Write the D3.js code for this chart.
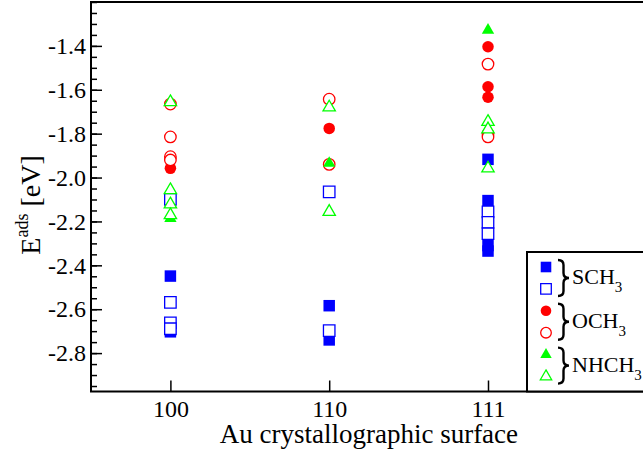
<!DOCTYPE html>
<html>
<head>
<meta charset="utf-8">
<script src="https://cdn.jsdelivr.net/npm/d3@7"></script>
<style>
  body { margin: 0; background: #fff; }
  svg text { font-family: "Liberation Serif", "Times New Roman", serif !important; }
</style>
</head>
<body>
<div id="app"></div>
<script>
// surfaces on the x axis
const surfaces = ["100", "110", "111"];
const yTicks = [-2.8, -2.6, -2.4, -2.2, -2.0, -1.8, -1.6, -1.4];

// adsorption energies [eV], one list per surface (100, 110, 111)
const schFilled = [[-2.449, -2.703], [-2.584, -2.74], [-1.917, -2.105, -2.31, -2.335]];
const schOpen   = [[-2.099, -2.569, -2.662, -2.689], [-2.065, -2.698], [-2.156, -2.204, -2.256]];
const ochFilled = [[-1.958], [-1.776], [-1.404, -1.586, -1.634]];
const ochOpen   = [[-1.665, -1.815, -1.905, -1.92], [-1.643, -1.94], [-1.483, -1.80, -1.815]];
const nhFilled  = [[-2.186], [-1.935], [-1.328]];
const nhOpen    = [[-1.656, -2.057, -2.122, -2.171], [-1.68, -2.156], [-1.746, -1.78, -1.958]];

const legendNames = ["SCH", "OCH", "NHCH"];

const W = 643, H = 450;
const serif = "'Liberation Serif', 'Times New Roman', serif";
const svg = d3.select("#app").append("svg")
    .attr("width", W)
    .attr("height", H)
    .style("font-family", serif);

// x: surfaces at 1,2,3 on a 0.5..4 world
let x = d3.scaleLinear().domain([0.5, 4.0]).range([91, 646.8]);
let y = d3.scaleLinear().domain([-2.975, -1.2]).range([391.5, 2]);

// minor y ticks
svg.append("g")
    .attr("transform", "translate(91,0)")
    .call(d3.axisLeft(y).tickValues(d3.range(-2.95, -1.19, 0.05)).tickSizeInner(-6).tickSizeOuter(0).tickFormat(""))
    .call(g => g.select(".domain").remove())
    .selectAll("line").attr("stroke-width", 1.5);

// major y ticks
svg.append("g")
    .attr("transform", "translate(91,0)")
    .call(d3.axisLeft(y).tickValues(yTicks).tickSizeInner(-11).tickSizeOuter(0).tickPadding(5))
    .call(g => g.attr("font-family", null))
    .call(g => g.select(".domain").remove())
    .call(g => g.selectAll("line").attr("stroke-width", 1.5))
    .call(g => g.selectAll("text")
        .style("font-family", serif)
        .style("font-size", "24px")
        .attr("fill", "#000")
        .text(d => d.toFixed(1)));

// x ticks
svg.append("g")
    .attr("transform", "translate(0,391.5)")
    .call(d3.axisBottom(x).tickValues([1, 2, 3]).tickSizeInner(-11).tickSizeOuter(0).tickPadding(8)
        .tickFormat((d, i) => surfaces[i]))
    .call(g => g.attr("font-family", null))
    .call(g => g.select(".domain").remove())
    .call(g => g.selectAll("line").attr("stroke-width", 1.5))
    .call(g => g.selectAll("text")
        .style("font-family", serif)
        .style("font-size", "24px")
        .attr("fill", "#000"));

// frame
svg.append("rect")
    .attr("x", x(0.5)).attr("y", y(-1.2))
    .attr("width", x(4.0) - x(0.5))
    .attr("height", y(-2.975) - y(-1.2))
    .attr("fill", "none")
    .attr("stroke", "#000")
    .attr("stroke-width", 2);

// series, drawn in this order
const series = [
    {vals: schFilled, shape: d3.symbolSquare, size: 132, color: "#0000ff", filled: true},
    {vals: schOpen, shape: d3.symbolSquare, size: 132, color: "#0000ff", filled: false},
    {vals: ochFilled, shape: d3.symbolCircle, size: 104, color: "#ff0000", filled: true},
    {vals: ochOpen, shape: d3.symbolCircle, size: 104, color: "#ff0000", filled: false},
    {vals: nhFilled, shape: d3.symbolTriangle, size: 66, color: "#00ff00", filled: true},
    {vals: nhOpen, shape: d3.symbolTriangle, size: 66, color: "#00ff00", filled: false},
];

function drawSym(g, s) {
    g.attr("d", d3.symbol().type(s.shape).size(s.size)())
        .attr("fill", s.filled ? s.color : "#fff")
        .attr("stroke", s.color)
        .attr("stroke-width", s.filled ? 0 : 1.3);
}

for (const s of series) {
    const pts = [];
    s.vals.forEach((list, i) => list.forEach(v => pts.push({i: i + 1, v: v})));
    svg.append("g").selectAll("path")
        .data(pts)
        .enter()
        .append("path")
            .attr("transform", d => "translate(" + x(d.i) + "," + y(d.v) + ")")
            .call(g => drawSym(g, s));
}

// legend
svg.append("rect")
    .attr("x", 527).attr("y", 252)
    .attr("width", 130).attr("height", 139.5)
    .attr("fill", "#fff")
    .attr("stroke", "#000")
    .attr("stroke-width", 2);

const leg = svg.append("g");
series.forEach((s, k) => {
    leg.append("path")
        .attr("transform", "translate(546," + (267 + 21.9 * k) + ")")
        .call(g => drawSym(g, Object.assign({}, s, {size: s.size * 0.85})));
});

// curly brace pointing right, centred on cy
function brace(cy) {
    const xl = 558, xm = 563.5, xr = 569, t = cy - 18, b = cy + 18;
    return "M" + xl + "," + t + " Q" + xm + "," + t + " " + xm + "," + (t + 5) +
        " L" + xm + "," + (cy - 5) + " Q" + xm + "," + cy + " " + xr + "," + cy +
        " Q" + xm + "," + cy + " " + xm + "," + (cy + 5) +
        " L" + xm + "," + (b - 5) + " Q" + xm + "," + b + " " + xl + "," + b;
}

legendNames.forEach((name, k) => {
    const cy = 278 + 43.8 * k;
    leg.append("path")
        .attr("d", brace(cy))
        .attr("fill", "none")
        .attr("stroke", "#000")
        .attr("stroke-width", 2.4);
    const t = leg.append("text")
        .attr("x", 572).attr("y", cy + 6)
        .style("font-size", "22px");
    t.append("tspan").text(name);
    t.append("tspan").attr("dy", 8).style("font-size", "15px").text("3");
});

// axis titles
svg.append("text")
    .attr("x", x(0.5) + (x(4.0) - x(0.5)) / 2)
    .attr("y", 443)
    .attr("text-anchor", "middle")
    .style("font-size", "27px")
    .text("Au crystallographic surface");

const yl = svg.append("text")
    .attr("transform", "translate(40,205) rotate(-90)")
    .attr("text-anchor", "middle")
    .style("font-size", "28px");
yl.append("tspan").text("E");
yl.append("tspan").attr("dy", -12).style("font-size", "18px").text("ads");
yl.append("tspan").attr("dy", 12).text(" [eV]");
</script>
</body>
</html>
